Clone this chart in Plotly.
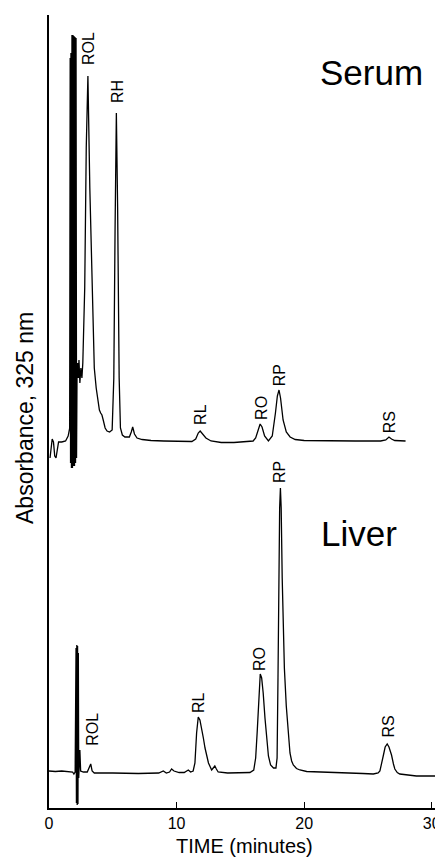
import plotly.graph_objects as go

# ---- Serum chromatogram (time in minutes, absorbance in arbitrary units) ----
serum_time = [0.08, 0.25, 0.35, 0.45, 0.55, 0.65, 0.75, 1.0, 1.3, 1.5, 1.62,
              1.66, 1.69, 1.72, 1.76, 1.80, 1.84, 1.88, 1.92, 1.96, 2.00, 2.04, 2.08, 2.12, 2.16, 2.20,
              2.25, 2.30, 2.35, 2.42, 2.50, 2.58, 2.65, 2.80, 2.92, 3.05, 3.20, 3.40, 3.55, 3.70,
              3.85, 3.95, 4.05, 4.15, 4.25, 4.40, 4.55, 4.75, 4.95, 5.08, 5.18, 5.28, 5.38, 5.50,
              5.60, 5.75, 5.95, 6.15, 6.30, 6.45, 6.56, 6.70, 6.90, 7.30, 8.0, 9.0, 10.0, 11.0,
              11.2, 11.5, 11.7, 11.85, 12.0, 12.3, 12.7, 13.5, 14.5, 15.5, 16.0, 16.2, 16.4, 16.55,
              16.7, 16.9, 17.2, 17.5, 17.75, 17.9, 18.03, 18.15, 18.35, 18.6, 18.9, 19.3, 20.0,
              22.0, 24.0, 26.0, 26.4, 26.65, 26.85, 27.1, 27.5, 27.95]
serum_abs = [3.50, 3.69, 3.66, 3.52, 3.50, 3.60, 3.66, 3.66, 3.67, 3.72, 3.80,
             7.50, 3.45, 7.55, 3.40, 7.73, 3.40, 7.73, 3.42, 7.72, 3.42, 7.71, 3.45, 7.70, 3.50, 4.40,
             4.45, 4.30, 4.48, 4.25, 4.40, 4.30, 4.45, 5.20, 6.60, 7.32, 6.20, 5.00, 4.40, 4.20,
             4.05, 3.98, 3.95, 3.93, 3.88, 3.80, 3.77, 3.76, 3.78, 4.30, 5.80, 6.95, 6.00, 4.30,
             3.80, 3.73, 3.71, 3.71, 3.71, 3.76, 3.81, 3.74, 3.70, 3.685, 3.675, 3.67, 3.665, 3.665,
             3.665, 3.69, 3.75, 3.77, 3.75, 3.70, 3.67, 3.655, 3.655, 3.66, 3.67, 3.70, 3.78, 3.84,
             3.81, 3.72, 3.67, 3.72, 3.95, 4.12, 4.18, 4.10, 3.88, 3.76, 3.71, 3.685, 3.675,
             3.67, 3.67, 3.67, 3.68, 3.71, 3.69, 3.675, 3.67, 3.67]

# ---- Liver chromatogram ----
liver_time = [0.0, 0.5, 1.0, 1.5, 1.85, 1.95, 2.05,
              2.12, 2.15, 2.18, 2.21, 2.24, 2.27, 2.30, 2.33, 2.42, 2.48,
              2.7, 3.0, 3.15, 3.27, 3.38, 3.55, 5.0, 7.0, 8.6, 8.96, 9.2, 9.45, 9.61, 9.8,
              10.2, 10.6, 10.92, 11.1, 11.3, 11.44, 11.57, 11.70, 11.83, 11.97, 12.1, 12.23,
              12.37, 12.5, 12.75, 12.88, 13.0, 13.12, 13.26, 14.0, 15.0, 15.75, 16.05, 16.2,
              16.32, 16.45, 16.56, 16.67, 16.79, 16.93, 17.06, 17.2, 17.37, 17.6, 17.79, 17.88,
              17.95, 18.02, 18.08, 18.14, 18.2, 18.28, 18.36, 18.45, 18.6, 18.75, 18.89, 19.02,
              19.15, 19.4, 19.67, 20.2, 21.0, 22.5, 23.6, 24.6, 25.42, 25.8, 25.94, 26.08, 26.2,
              26.35, 26.51, 26.65, 26.85, 27.0, 27.11, 27.3, 27.5, 28.8, 30.38]
liver_abs = [0.37, 0.365, 0.37, 0.36, 0.36, 0.34, 0.36,
             1.60, 0.05, 1.63, 0.03, 1.62, 0.04, 1.55, 0.30, 0.58, 0.37,
             0.36, 0.36, 0.40, 0.44, 0.37, 0.35, 0.35, 0.345, 0.35, 0.37, 0.35, 0.36, 0.39, 0.37,
             0.355, 0.355, 0.38, 0.36, 0.37, 0.45, 0.75, 0.91, 0.88, 0.80, 0.70, 0.60,
             0.52, 0.45, 0.38, 0.40, 0.42, 0.39, 0.36, 0.35, 0.35, 0.355, 0.38, 0.50,
             0.76, 1.15, 1.34, 1.30, 1.15, 0.90, 0.68, 0.52, 0.43, 0.40, 0.40, 0.50,
             1.30, 2.40, 3.00, 3.20, 3.00, 2.30, 1.75, 1.40, 1.02, 0.75, 0.55, 0.47,
             0.43, 0.395, 0.38, 0.365, 0.36, 0.355, 0.35, 0.345, 0.34, 0.35, 0.37, 0.44, 0.52,
             0.61, 0.64, 0.61, 0.53, 0.44, 0.39, 0.355, 0.34, 0.32, 0.32]

# ---- Peak labels ----
serum_labels = ["ROL", "RH", "RL", "RO", "RP", "RS"]
serum_label_t = [3.06, 5.33, 11.83, 16.61, 18.05, 26.67]
serum_label_v = [7.59, 7.17, 3.94, 4.00, 4.33, 3.86]

liver_labels = ["ROL", "RL", "RO", "RP", "RS"]
liver_label_t = [3.35, 11.68, 16.46, 18.03, 26.54]
liver_label_v = [0.79, 1.05, 1.49, 3.36, 0.81]

x_ticks = [0, 10, 20, 30]
x_tick_text = ["0", "10", "20", "30"]

FONT = "Liberation Sans, Arial, Helvetica, sans-serif"

fig = go.Figure()
fig.add_trace(go.Scatter(x=serum_time, y=serum_abs, mode="lines",
                         line=dict(color="black", width=1.3), hoverinfo="skip"))
fig.add_trace(go.Scatter(x=liver_time, y=liver_abs, mode="lines",
                         line=dict(color="black", width=1.3), hoverinfo="skip"))

annotations = []
for lab, t, v in zip(serum_labels + liver_labels,
                     serum_label_t + liver_label_t,
                     serum_label_v + liver_label_v):
    annotations.append(dict(x=t, y=v, text=lab, showarrow=False, textangle=-90,
                            xanchor="center", yanchor="middle",
                            font=dict(family=FONT, size=16, color="black")))

annotations.append(dict(x=25.27, y=7.355, text="Serum", showarrow=False,
                        xanchor="center", yanchor="middle",
                        font=dict(family=FONT, size=35, color="black")))
annotations.append(dict(x=24.33, y=2.745, text="Liver", showarrow=False,
                        xanchor="center", yanchor="middle",
                        font=dict(family=FONT, size=35, color="black")))
annotations.append(dict(x=-0.0614, xref="paper", y=3.90, yref="y",
                        text="Absorbance, 325 nm", showarrow=False, textangle=-90,
                        xanchor="center", yanchor="middle",
                        font=dict(family=FONT, size=23, color="black")))
annotations.append(dict(x=0.5, xref="paper", y=-0.0485, yref="paper",
                        text="TIME (minutes)", showarrow=False,
                        xanchor="center", yanchor="middle", borderpad=0,
                        font=dict(family=FONT, size=20, color="black")))

# the page body adds an 8px margin; the figure is sized so the plot area
# lands at x 49..440, y 15..808 in the 443x858 window
fig.update_layout(
    width=435, height=850, autosize=False,
    margin=dict(l=41, r=3, t=7, b=50, pad=0),
    paper_bgcolor="white", plot_bgcolor="white",
    showlegend=False,
    annotations=annotations,
    xaxis=dict(range=[0, 30.65], showgrid=False, zeroline=False, automargin=False,
               showline=True, linecolor="black", linewidth=1.5,
               ticks="inside", ticklen=6, tickwidth=1.3, tickcolor="black",
               tickvals=x_ticks, ticktext=x_tick_text,
               tickfont=dict(family=FONT, size=16, color="black")),
    yaxis=dict(range=[0, 7.93], showgrid=False, zeroline=False, automargin=False,
               showline=True, linecolor="black", linewidth=1.5,
               showticklabels=False, ticks=""),
)

fig.write_html("out.html")
